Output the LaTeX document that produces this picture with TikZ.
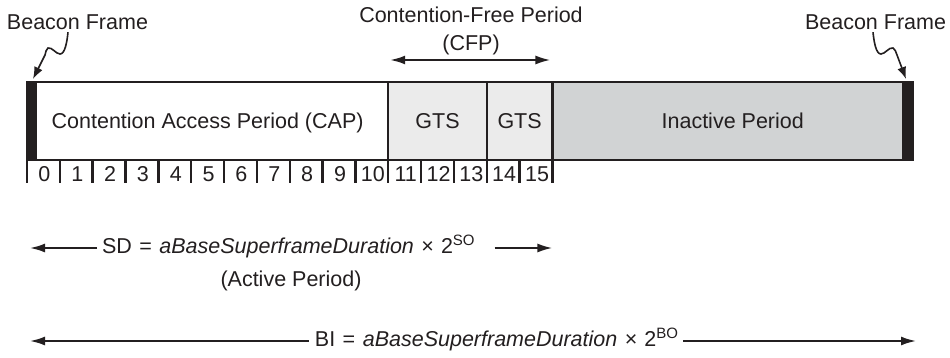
\documentclass[tikz,border=0pt]{standalone}
\usepackage{fontspec}
\setmainfont{Liberation Sans}
\usetikzlibrary{arrows.meta}
\definecolor{ink}{HTML}{231F20}
\definecolor{gtsfill}{HTML}{EBEBEB}
\definecolor{inactfill}{HTML}{D1D3D4}
\newcommand{\formula}[2]{#1\hspace{7.5pt}=\hspace{7.5pt}\textit{aBaseSuperframeDuration}\hspace{7.5pt}×\hspace{7pt}2\raisebox{8pt}{\fontsize{15}{15}\selectfont #2}}
\begin{document}
\begin{tikzpicture}[x=1pt,y=-1pt,
  every node/.style={font=\fontsize{21.5}{25}\selectfont, text=ink, inner sep=0pt, outer sep=0pt},
  cell/.style={draw=ink, line width=2.2pt, minimum height=78pt, text height=15.5pt, text depth=0pt},
  tickline/.style={draw=ink, line width=2.4pt},
  arr/.style={draw=ink, line width=2pt, -{Latex[length=15pt,width=9pt]}},
  darr/.style={draw=ink, line width=2pt, {Latex[length=15pt,width=9pt]}-{Latex[length=15pt,width=9pt]}},
  warr/.style={draw=ink, line width=1.6pt, -{Latex[length=12pt,width=9pt]}}]
\fill[white] (0,0) rectangle (950,358);
\useasboundingbox (0,0) rectangle (950,358);

% labels at top
\node[anchor=base] (bfl) at (77.5,29.5) {Beacon Frame};
\node[anchor=base] (bfr) at (875.5,29.5) {Beacon Frame};
\node[align=center, font=\fontsize{21.5}{27.5}\selectfont] (cfp) at (471,30.8) {Contention-Free Period\\(CFP)};

% superframe cells
\node[cell, fill=white, minimum width=361.24pt] (cap) at (207.62,121) {Contention Access Period (CAP)};
\node[cell, fill=gtsfill, minimum width=98.52pt] (gts1) at (437.5,121) {GTS};
\node[cell, fill=gtsfill, minimum width=65.68pt] (gts2) at (519.6,121) {GTS};
\node[cell, fill=inactfill, minimum width=360.56pt] (inact) at (732.72,121) {Inactive Period};
\node[cell, fill=ink, minimum width=9pt] (bl) at (31.5,121) {};
\node[cell, fill=ink, minimum width=10pt] (br) at (908,121) {};

% slot scale
\foreach \i in {0,...,16} \draw[tickline] ({27+\i*32.84},160) -- ({27+\i*32.84},183);
\foreach \i in {0,...,15} \node[anchor=base] (s\i) at ({27+(\i+0.5)*32.84+1},181.7) {\i};

% CFP arrow
\draw[darr] ([xshift=2pt,yshift=22pt]gts1.north west) -- ([xshift=-2pt,yshift=22pt]gts2.north east);

% beacon wiggle arrows
\draw[warr] ([xshift=-9.5pt,yshift=-2.5pt]bfl.south) .. controls (67,42) and (65,54) .. (60,54)
  .. controls (56,54) and (52,47) .. (48,48) .. controls (46,49) and (46,52) .. (45,55)
  -- ([xshift=1.5pt,yshift=3pt]bl.north);
\draw[warr] ([xshift=-2.5pt,yshift=-2.5pt]bfr.south) .. controls (874,42) and (876,54) .. (881,54)
  .. controls (885,54) and (889,47) .. (893,48) .. controls (895,49) and (896,52) .. (897,55)
  -- ([xshift=-2pt,yshift=3pt]br.north);

% SD
\node[anchor=base west] (sd) at (102,253) {\formula{SD}{SO}};
\coordinate (sdL) at (30,248);
\coordinate (sdR) at (552.4,248);
\draw[arr] ([xshift=-5pt]sd.west |- sdL) -- (sdL);
\draw[arr] ([xshift=20pt]sd.east |- sdR) -- (sdR);
\node[anchor=base] (act) at (291,286) {(Active Period)};

% BI
\node[anchor=base] (bi) at (496.5,346) {\formula{BI}{BO}};
\coordinate (biL) at (30,341);
\coordinate (biR) at (916,341);
\draw[arr] ([xshift=-6pt]bi.west |- biL) -- (biL);
\draw[arr] ([xshift=5pt]bi.east |- biR) -- (biR);
\end{tikzpicture}
\end{document}
